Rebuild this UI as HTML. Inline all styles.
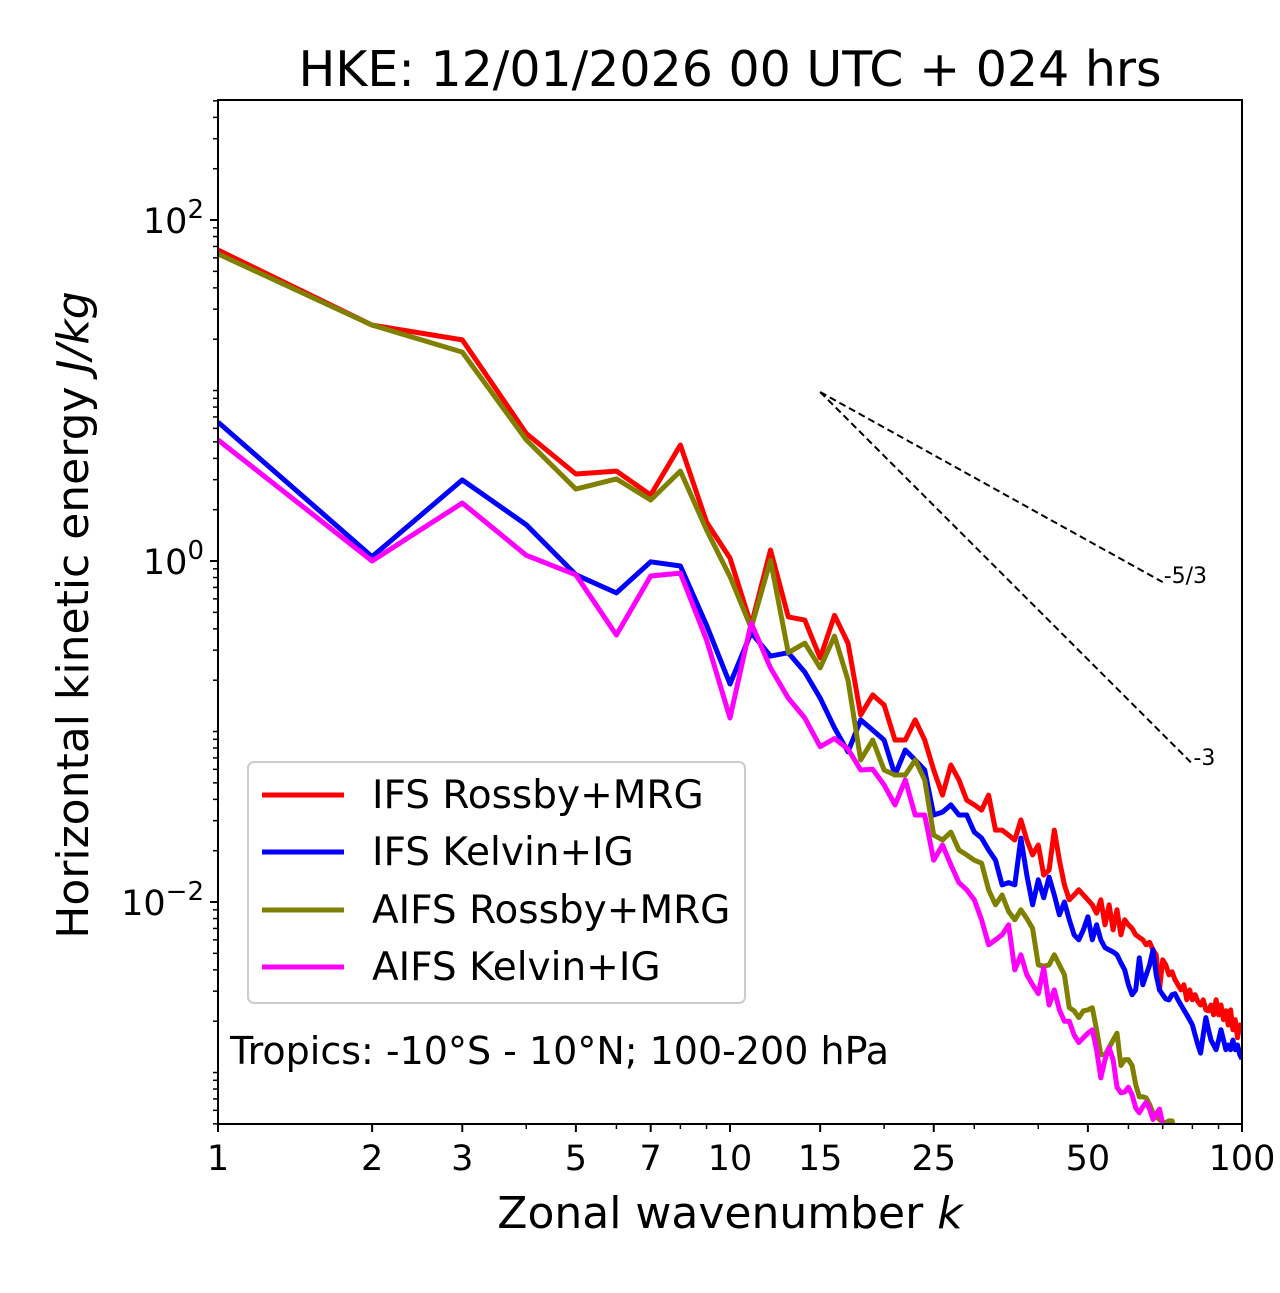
<!DOCTYPE html>
<html><head><meta charset="utf-8"><style>
body{margin:0;background:#fff;}
svg text{font-family:"DejaVu Sans","Liberation Sans",sans-serif;}
</style></head><body>
<svg id="chart" width="1280" height="1288" xmlns="http://www.w3.org/2000/svg">
<defs><clipPath id="plotclip"><rect x="218" y="100" width="1024" height="1024"/></clipPath></defs>
<rect width="1280" height="1288" fill="#fff"/>
<text x="730" y="86" font-size="49" text-anchor="middle">HKE: 12/01/2026 00 UTC + 024 hrs</text>
<g id="ticks"></g>
<g id="series" clip-path="url(#plotclip)"></g>
<rect x="218" y="100" width="1024" height="1024" fill="none" stroke="#000" stroke-width="2"/>
<text x="730" y="1228" font-size="44" text-anchor="middle">Zonal wavenumber <tspan font-style="italic">k</tspan></text>
<text transform="translate(88,615) rotate(-90)" font-size="44" text-anchor="middle">Horizontal kinetic energy <tspan font-style="italic">J/kg</tspan></text>
<g>
<rect x="248" y="762" width="497" height="241" rx="6" fill="#fff" fill-opacity="0.8" stroke="#ccc" stroke-width="2"/>
<line x1="262" y1="795" x2="344" y2="795" stroke="#ff0000" stroke-width="5"/>
<text x="372" y="808" font-size="39">IFS Rossby+MRG</text>
<line x1="262" y1="852" x2="344" y2="852" stroke="#0000ff" stroke-width="5"/>
<text x="372" y="865" font-size="39">IFS Kelvin+IG</text>
<line x1="262" y1="910" x2="344" y2="910" stroke="#808000" stroke-width="5"/>
<text x="372" y="923" font-size="39">AIFS Rossby+MRG</text>
<line x1="262" y1="967" x2="344" y2="967" stroke="#ff00ff" stroke-width="5"/>
<text x="372" y="980" font-size="39">AIFS Kelvin+IG</text>
</g>
<text x="230" y="1064" font-size="38">Tropics: -10°S - 10°N; 100-200 hPa</text>
</svg>
<script>
const xTickLabels=[1,2,3,5,7,10,15,25,50,100];
const xMinor=[4,6,8,9,20,30,40,60,70,80,90];
const yLabelExp=[-2,0,2];
const slopeRef=[{k0:15,v0:9.8,k1:70,p:-5/3,label:"-5/3"},{k0:15,v0:9.8,k1:80,p:-3,label:"-3"}];
const redVals=[66.7,24.2,19.8,5.6,3.24,3.37,2.44,4.79,1.69,1.04,0.42,1.16,0.47,0.45,0.27,0.48,0.33,
0.125,0.164,0.143,0.0892,0.0892,0.117,0.0892,0.0595,0.0424,0.0636,0.052,0.0396,0.0371,0.0346,0.0424,0.0264,0.0264,0.0247,0.0231,0.0303,0.0231,0.0189,0.0216,0.0144,0.0154,0.0264,0.0176,0.0126,0.0103,0.0110,0.0118,0.0110,0.0103,
0.00963,0.0086,0.0103,0.00735,0.00963,0.00687,0.009,0.00642,0.00786,0.00735,0.0070,0.00642,0.0062,0.006,0.00561,0.0058,0.00524,0.0049,0.00305,0.00458,0.00428,0.00374,0.0039,0.0035,0.00327,0.00305,0.00327,0.00267,0.00305,0.00267,0.00286,0.0026,0.00249,0.00267,0.00233,0.0023,0.00249,0.00218,0.00267,0.00218,0.00249,0.00204,0.0023,0.0019,0.00233,0.00178,0.00204,0.0016,0.0019,0.00178];
const blueVals=[6.53,1.06,2.99,1.63,0.83,0.65,0.99,0.935,0.42,0.19,0.38,0.277,0.29,0.223,0.157,0.105,0.076,
0.117,0.102,0.0892,0.0556,0.0779,0.0681,0.0595,0.0324,0.0337,0.0371,0.0324,0.0324,0.0257,0.0237,0.0202,0.0176,0.0126,0.013,0.0126,0.0237,0.0144,0.00963,0.0135,0.0106,0.014,0.011,0.00841,0.01,0.00786,0.00642,0.006,0.00687,0.0082,
0.006,0.00735,0.006,0.0054,0.00524,0.0051,0.0049,0.0044,0.004,0.00327,0.00286,0.00305,0.0047,0.00327,0.00374,0.00428,0.00524,0.00374,0.00305,0.00286,0.0027,0.00267,0.00286,0.0029,0.00267,0.00249,0.00233,0.00218,0.00204,0.0019,0.00166,0.00145,0.0013,0.00166,0.0021,0.00178,0.00155,0.00145,0.00136,0.00155,0.00178,0.00155,0.00136,0.00145,0.00136,0.00155,0.00136,0.00145,0.00127,0.0012];
const oliveVals=[63.3,24.2,16.8,5.13,2.64,3.03,2.28,3.37,1.52,0.81,0.405,1.01,0.29,0.33,0.236,0.363,0.2,
0.0681,0.0892,0.0595,0.0556,0.0556,0.0681,0.052,0.0247,0.0231,0.0257,0.0202,0.0189,0.0176,0.0169,0.0118,0.00963,0.011,0.0088,0.00786,0.009,0.008,0.007,0.00428,0.0042,0.00428,0.0049,0.00428,0.00374,0.0024,0.0023,0.0021,0.0023,0.00233,
0.0024,0.00178,0.00127,0.00127,0.0014,0.00155,0.0017,0.0011,0.00119,0.00119,0.0011,0.00085,0.00072,0.00072,0.00071,0.00065,0.00058,0.00055,0.00053,0.00051,0.00051,0.00052,0.00052,0.00046,0.00044,0.00043,0.00042,0.00041,0.0004,0.00039,0.00038,0.00037,0.00036,0.00036,0.00035,0.00034,0.00034,0.00033,0.00033,0.00032,0.00032,0.00031,0.00031,0.0003,0.0003,0.0003,0.00029,0.00029,0.00029,0.00028];
const magentaVals=[5.13,1.0,2.19,1.08,0.83,0.368,0.817,0.85,0.344,0.12,0.433,0.236,0.157,0.12,0.0815,0.091,0.079,
0.0595,0.06,0.0486,0.0371,0.052,0.0324,0.0324,0.0176,0.0216,0.0165,0.013,0.0118,0.0103,0.00786,0.00561,0.006,0.00642,0.00735,0.004,0.0049,0.00374,0.00327,0.0029,0.0041,0.00249,0.00305,0.00233,0.002,0.002,0.00166,0.0015,0.0016,0.0017,
0.00178,0.00136,0.00093,0.00119,0.0014,0.00119,0.00082,0.00076,0.00077,0.00082,0.00074,0.00062,0.00058,0.00063,0.00067,0.00061,0.00053,0.00057,0.00061,0.0005,0.00047,0.00046,0.00045,0.00044,0.00043,0.00042,0.00041,0.0004,0.00039,0.00038,0.00037,0.00036,0.00036,0.00035,0.00034,0.00034,0.00033,0.00033,0.00032,0.00032,0.00031,0.00031,0.0003,0.0003,0.0003,0.00029,0.00029,0.00029,0.00028,0.00028];
const seriesColors=["#ff0000","#0000ff","#808000","#ff00ff"];
const seriesNames=["ifs-rossby-mrg","ifs-kelvin-ig","aifs-rossby-mrg","aifs-kelvin-ig"];

const L=218,R=1242,T=100,B=1124;
const yTopExp=2.704,yBotExp=-3.302;
function sx(k){return L+(R-L)*Math.log10(k)/2;}
function sy(v){return T+(B-T)*(yTopExp-Math.log10(v))/(yTopExp-yBotExp);}
const NS="http://www.w3.org/2000/svg";
const ticks=document.getElementById('ticks');
const series=document.getElementById('series');
function mk(tag,attrs,parent){const e=document.createElementNS(NS,tag);for(const a in attrs)e.setAttribute(a,attrs[a]);parent.appendChild(e);return e;}

xTickLabels.forEach(k=>{
  const x=sx(k);
  const t=mk('line',{x1:x,y1:B,x2:x,y2:B+8,stroke:'#000','stroke-width':2},ticks);
  
  
  const lb=mk('text',{x:x,y:B+46,'font-size':35,'text-anchor':'middle'},ticks);
  lb.textContent=k;
  
  
});
xMinor.forEach(k=>{
  const x=sx(k);
  const t=mk('line',{x1:x,y1:B,x2:x,y2:B+5,stroke:'#000','stroke-width':1.5},ticks);
  
  
});
for(let e=-4;e<=2;e++){
  for(let m=1;m<=9;m++){
    const v=m*Math.pow(10,e);
    const y=sy(v);
    if(y<T-0.5||y>B+0.5)continue;
    const major=(m===1&&yLabelExp.includes(e));
    const t=mk('line',{x1:L,y1:y,x2:L-(major?8:5),y2:y,stroke:'#000','stroke-width':major?2:1.5},ticks);
    
    
  }
}
yLabelExp.forEach(e=>{
  const y=sy(Math.pow(10,e));
  const lb=mk('text',{x:L-14,y:y+13,'font-size':35,'text-anchor':'end'},ticks);
  lb.innerHTML='10<tspan dy="-15" font-size="26">'+(e<0?'\u2212'+(-e):e)+'</tspan>';
  
  
});
slopeRef.forEach(s=>{
  const v1=s.v0*Math.pow(s.k1/s.k0,s.p);
  const l=mk('line',{x1:sx(s.k0),y1:sy(s.v0),x2:sx(s.k1),y2:sy(v1),stroke:'#000','stroke-width':2,'stroke-dasharray':'7,4'},ticks);
  
  
  const t=mk('text',{x:sx(s.k1)+1,y:sy(v1)+1,'font-size':22},ticks);
  t.textContent=s.label;
  
  
});
[redVals,blueVals,oliveVals,magentaVals].forEach((vals,i)=>{
  const pts=vals.map((v,j)=>sx(j+1).toFixed(1)+','+sy(v).toFixed(1)).join(' ');
  const p=mk('polyline',{points:pts,fill:'none',stroke:seriesColors[i],'stroke-width':5,'stroke-linejoin':'round'},series);
  
  
});
</script>
</body></html>
